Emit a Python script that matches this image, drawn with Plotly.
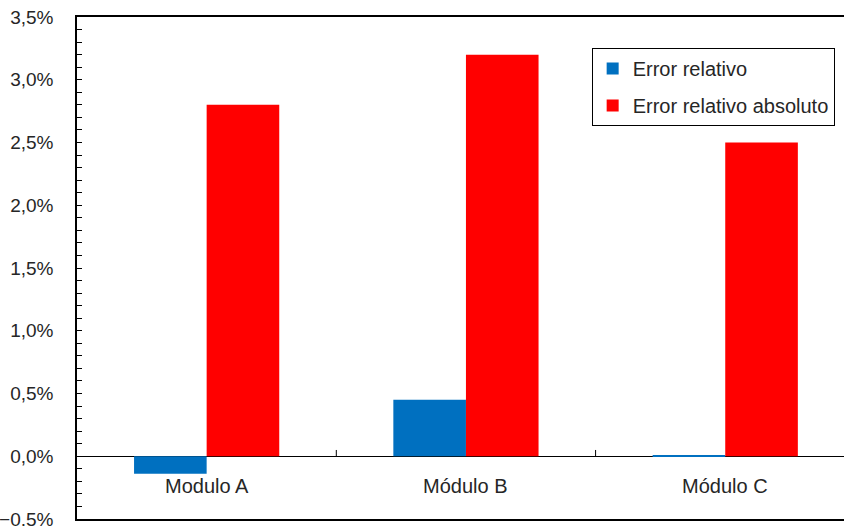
import plotly.graph_objects as go

categories = ["Modulo A", "Módulo B", "Módulo C"]
error_relativo = [-0.0014, 0.0045, 0.00005]
error_relativo_absoluto = [0.028, 0.032, 0.025]
series_names = ["Error relativo", "Error relativo absoluto"]
y_ticks = [-0.005, 0.0, 0.005, 0.01, 0.015, 0.02, 0.025, 0.03, 0.035]

FONT = "Liberation Sans"
TXT = "#262626"

fig = go.Figure()
fig.add_trace(go.Bar(x=categories, y=error_relativo, name=series_names[0],
                     marker=dict(color="#0070C0", line=dict(width=0)),
                     legendgroup="a"))
fig.add_trace(go.Bar(x=categories, y=error_relativo_absoluto, name=series_names[1],
                     marker=dict(color="#FF0000", line=dict(width=0)),
                     legendgroup="b"))

# category labels just below the zero line
for c in categories:
    fig.add_annotation(x=c, y=0, xref="x", yref="y", text=c, showarrow=False,
                       yanchor="top", yshift=-17,
                       font=dict(family=FONT, size=20, color=TXT))

# category boundary tick marks on the zero line
for xb in [0.5, 1.5]:
    fig.add_shape(type="line", xref="x", yref="y", x0=xb, x1=xb, y0=0, y1=0.0005,
                  line=dict(color="black", width=1))

fig.update_layout(
    width=844, height=526,
    margin=dict(l=77, r=0, t=17, b=7),
    paper_bgcolor="white", plot_bgcolor="white",
    barmode="group", bargap=0.44, bargroupgap=0,
    separators=",.",
    font=dict(family=FONT, size=20, color=TXT),
    showlegend=True,
    legend=dict(x=0.671, xanchor="left", y=0.938, yanchor="top",
                bordercolor="black", borderwidth=1, bgcolor="white",
                tracegroupgap=8, traceorder="grouped",
                font=dict(family=FONT, size=20, color=TXT)),
    xaxis=dict(type="category", range=[-0.5, 2.458], showticklabels=False,
               ticks="", showline=True, mirror=True, linecolor="black",
               linewidth=1.5, showgrid=False, zeroline=False, fixedrange=True,
               automargin=False),
    yaxis=dict(range=[-0.005, 0.035], tickvals=y_ticks, tickformat=".1%",
               ticks="inside", ticklen=5, tickcolor="black",
               minor=dict(dtick=0.001, ticks="inside", ticklen=5, tickcolor="black",
                          showgrid=False),
               ticklabelstandoff=18, ticklabeloverflow="allow",
               automargin=False,
               showline=True, linecolor="black", linewidth=1.5,
               showgrid=False, zeroline=True, zerolinecolor="black",
               zerolinewidth=1,
               tickfont=dict(family=FONT, size=19, color=TXT)),
)

fig.write_html("out.html", config={"displayModeBar": False},
               post_script="document.body.style.margin='0';")
